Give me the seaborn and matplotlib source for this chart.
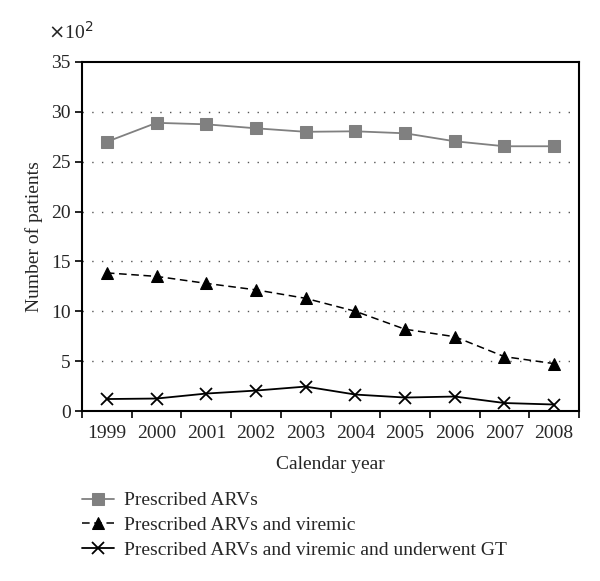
import matplotlib
matplotlib.use("Agg")
import matplotlib.pyplot as plt
import pandas as pd
import seaborn as sns

years = ["1999", "2000", "2001", "2002", "2003", "2004", "2005", "2006", "2007", "2008"]
prescribed = [27.0, 28.9, 28.75, 28.35, 28.0, 28.05, 27.85, 27.05, 26.55, 26.55]
viremic = [13.85, 13.5, 12.8, 12.15, 11.3, 10.0, 8.2, 7.45, 5.45, 4.75]
genotyped = [1.2, 1.25, 1.75, 2.05, 2.45, 1.65, 1.35, 1.45, 0.8, 0.65]
labels = [
    "Prescribed ARVs",
    "Prescribed ARVs and viremic",
    "Prescribed ARVs and viremic and underwent GT",
]
y_ticks = [0, 5, 10, 15, 20, 25, 30, 35]

df = pd.DataFrame({"year": years, "a": prescribed, "b": viremic, "c": genotyped})

sns.set_theme(style="white")
plt.rcParams["font.family"] = ["Liberation Serif", "DejaVu Serif"]

fig = plt.figure(figsize=(6, 5.81), dpi=100)
ax = fig.add_axes([82 / 600, 1 - 411 / 581, 497 / 600, 349 / 581])

sns.lineplot(data=df, x="year", y="a", ax=ax, color="#808080", marker="s",
             markersize=8, markeredgecolor="#808080", linewidth=1.3, label=labels[0])
sns.lineplot(data=df, x="year", y="b", ax=ax, color="black", marker="^",
             markersize=8, markeredgecolor="black", linewidth=1.1,
             linestyle=(0, (5, 3)), label=labels[1])
sns.lineplot(data=df, x="year", y="c", ax=ax, color="black", marker="x",
             markersize=9, markeredgecolor="black", markeredgewidth=1.3,
             linewidth=1.3, label=labels[2])

ax.set_xlim(-0.5, len(years) - 0.5)
ax.set_ylim(0, 35)
ax.set_yticks(y_ticks)
ax.set_yticklabels([str(t) for t in y_ticks], fontsize=14)
ax.set_xticks(range(len(years)))
ax.set_xticklabels(years, fontsize=14)
ax.set_xticks([i - 0.5 for i in range(len(years) + 1)], minor=True)
ax.tick_params(axis="x", which="major", length=0, pad=10)
ax.tick_params(axis="x", which="minor", length=5, width=1.2, color="black", direction="out", bottom=True)
ax.tick_params(axis="y", which="major", length=5, width=1.2, color="black", direction="out", left=True, pad=3)
for t in y_ticks[1:-1]:
    ax.axhline(t, color="#555555", linestyle=(0, (1, 6)), linewidth=1.0, zorder=0)

for side in ["left", "bottom", "top", "right"]:
    ax.spines[side].set_visible(True)
    ax.spines[side].set_color("black")
    ax.spines[side].set_linewidth(1.5)

ax.set_xlabel("Calendar year", fontsize=14, labelpad=10)
ax.set_ylabel("Number of patients", fontsize=14, labelpad=6)
ax.text(-0.068, 1.055, "$\\times$10$^2$", transform=ax.transAxes, fontsize=14, ha="left", va="bottom")

handles, lbls = ax.get_legend_handles_labels()
ax.legend_.remove()
fig.legend(handles, lbls, loc="upper left", bbox_to_anchor=(74 / 600, 1 - 484 / 581),
           frameon=False, fontsize=14, handlelength=1.65, handletextpad=0.5,
           labelspacing=0.36, borderaxespad=0)

fig.savefig("out.png", dpi=100)
